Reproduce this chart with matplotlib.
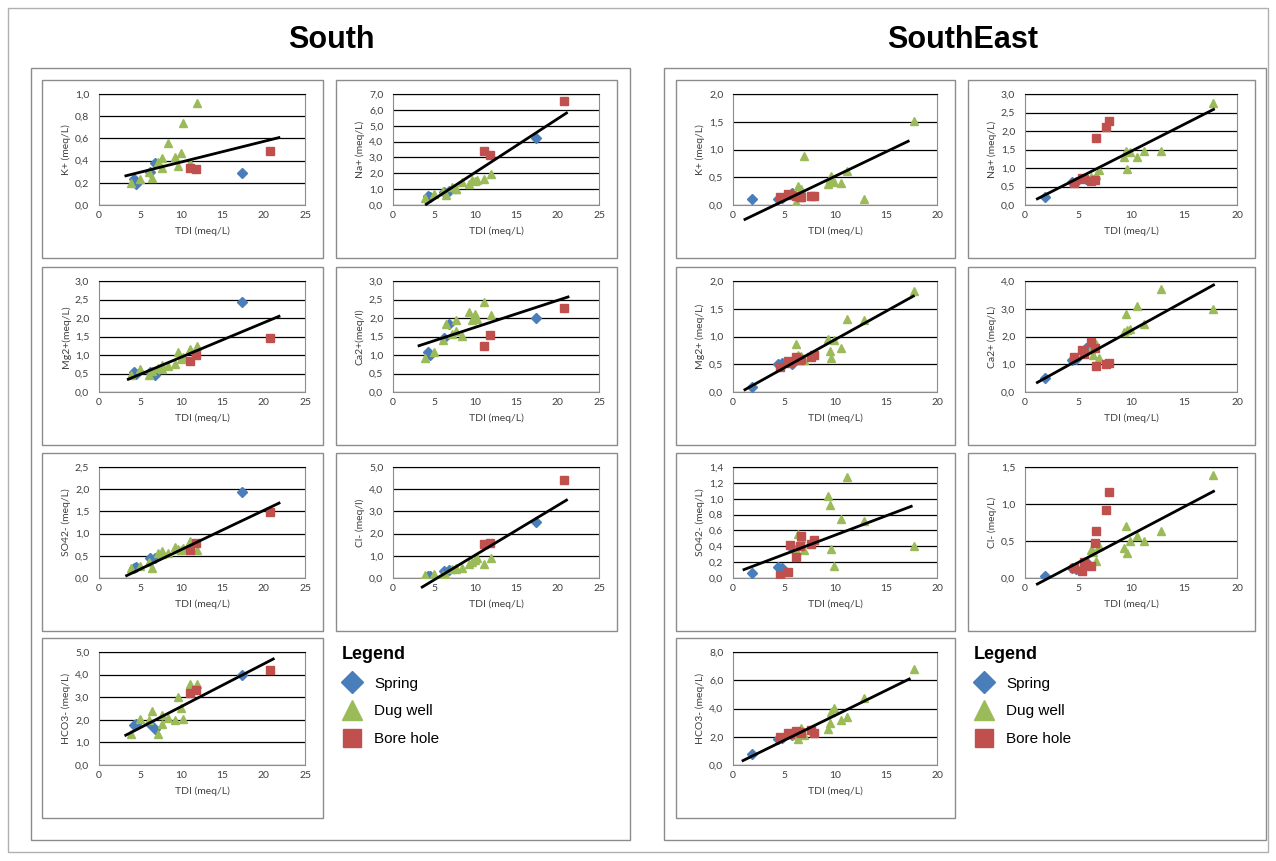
import matplotlib
matplotlib.use("Agg")
import matplotlib.pyplot as plt
from matplotlib.patches import Rectangle
from matplotlib.lines import Line2D
from matplotlib.ticker import FuncFormatter, MultipleLocator

W, H = 1276, 861

# ion order used by every list below
ion_keys = ["K", "Na", "Mg", "Ca", "SO4", "Cl", "HCO3"]

# ---------------- South ----------------
south_ylabels = ["K+ (meq/L)", "Na+ (meq/L)", "Mg2+(meq/L)", "Ca2+(meq/l)",
                 "SO42- (meq/L)", "Cl- (meq/l)", "HCO3- (meq/L)"]
south_ymax = [1.0, 7.0, 3.0, 3.0, 2.5, 5.0, 5.0]
south_ystep = [0.2, 1.0, 0.5, 0.5, 0.5, 1.0, 1.0]

south_spring_tdi = [4.3, 4.5, 6.2, 6.8, 17.4]
south_spring_y = [
    [0.23, 0.19, 0.30, 0.38, 0.29],
    [0.56, 0.50, 0.80, 0.90, 4.25],
    [0.54, 0.50, 0.55, 0.47, 2.42],
    [1.07, 1.01, 1.45, 1.84, 2.00],
    [0.22, 0.24, 0.45, 0.45, 1.94],
    [0.10, 0.08, 0.32, 0.35, 2.54],
    [1.75, 1.80, 1.80, 1.58, 4.00],
]

south_dug_tdi = [3.9, 5.0, 6.1, 6.4, 7.1, 7.6, 7.7, 8.4, 9.2, 9.6, 10.0, 10.2, 11.0, 11.9]
south_dug_y = [
    [0.20, 0.23, 0.30, 0.24, 0.39, 0.42, 0.33, 0.56, 0.43, 0.35, 0.47, 0.74, 0.38, 0.92],
    [0.46, 0.67, 0.88, 0.60, 1.13, 0.98, 1.02, 1.44, 1.30, 1.55, 1.50, 1.55, 1.65, 1.98],
    [0.47, 0.63, 0.45, 0.58, 0.65, 0.74, 0.62, 0.69, 0.76, 1.07, 0.90, 0.94, 1.16, 1.23],
    [0.92, 1.09, 1.41, 1.84, 1.58, 1.64, 1.94, 1.52, 2.17, 1.94, 2.10, 1.97, 2.44, 2.09],
    [0.23, 0.27, 0.35, 0.23, 0.56, 0.55, 0.60, 0.56, 0.69, 0.66, 0.64, 0.67, 0.83, 0.64],
    [0.13, 0.18, 0.15, 0.10, 0.39, 0.42, 0.44, 0.47, 0.64, 0.73, 0.80, 0.90, 0.64, 0.90],
    [1.37, 2.02, 2.00, 2.40, 1.38, 1.80, 2.20, 2.10, 1.99, 3.00, 2.54, 2.02, 3.59, 3.59],
]

south_bore_tdi = [11.1, 11.8, 20.8]
south_bore_y = [
    [0.33, 0.32, 0.49],
    [3.43, 3.18, 6.58],
    [0.83, 1.01, 1.46],
    [1.25, 1.55, 2.26],
    [0.64, 0.78, 1.48],
    [1.52, 1.59, 4.41],
    [3.18, 3.33, 4.20],
]

south_trend_x0 = [3.1, 3.9, 3.4, 3.0, 3.2, 3.4, 3.1]
south_trend_y0 = [0.26, 0.0, 0.33, 1.24, 0.04, -0.44, 1.29]
south_trend_x1 = [22.0, 21.2, 22.0, 21.4, 22.0, 21.2, 21.3]
south_trend_y1 = [0.61, 5.85, 2.06, 2.58, 1.70, 3.54, 4.72]

# ---------------- SouthEast ----------------
se_ylabels = ["K+ (meq/L)", "Na+ (meq/L)", "Mg2+ (meq/L)", "Ca2+ (meq/L)",
              "SO42- (meq/L)", "Cl- (meq/L)", "HCO3- (meq/L)"]
se_ymax = [2.0, 3.0, 2.0, 4.0, 1.4, 1.5, 8.0]
se_ystep = [0.5, 0.5, 0.5, 1.0, 0.2, 0.5, 2.0]

se_spring_tdi = [1.85, 4.4, 4.8, 5.8]
se_spring_y = [
    [0.11, 0.11, 0.12, 0.22],
    [0.21, 0.62, 0.63, 0.70],
    [0.09, 0.50, 0.52, 0.51],
    [0.52, 1.14, 1.20, 1.60],
    [0.06, 0.14, 0.13, 0.38],
    [0.03, 0.13, 0.12, 0.22],
    [0.80, 1.87, 1.90, 2.10],
]

se_dug_tdi = [6.2, 6.4, 6.7, 7.0, 9.3, 9.5, 9.6, 9.9, 10.6, 11.2, 12.8, 17.7]
se_dug_y = [
    [0.05, 0.35, 0.28, 0.89, 0.37, 0.46, 0.53, 0.42, 0.39, 0.61, 0.10, 1.52],
    [0.76, 0.70, 0.80, 0.94, 1.30, 1.47, 0.98, 1.42, 1.30, 1.47, 1.47, 2.75],
    [0.87, 0.67, 0.64, 0.57, 0.95, 0.74, 0.62, 0.93, 0.80, 1.32, 1.30, 1.82],
    [1.55, 1.35, 1.74, 1.24, 2.16, 2.80, 2.25, 2.28, 3.10, 2.44, 3.72, 3.00],
    [0.35, 0.56, 0.51, 0.35, 1.04, 0.92, 0.37, 0.15, 0.75, 1.28, 0.72, 0.40],
    [0.38, 0.35, 0.23, 0.43, 0.40, 0.70, 0.34, 0.50, 0.57, 0.50, 0.63, 1.39],
    [2.10, 1.83, 2.63, 2.10, 2.56, 2.97, 3.77, 4.07, 3.20, 3.38, 4.75, 6.81],
]

se_bore_tdi = [4.6, 5.4, 5.6, 6.2, 6.6, 6.7, 7.6, 7.95]
se_bore_y = [
    [0.14, 0.20, 0.18, 0.17, 0.14, 0.15, 0.16, 0.17],
    [0.60, 0.72, 0.70, 0.66, 0.68, 1.81, 2.10, 2.28],
    [0.45, 0.56, 0.52, 0.63, 0.57, 0.60, 0.63, 0.66],
    [1.26, 1.50, 1.38, 1.80, 1.60, 0.92, 1.00, 1.05],
    [0.04, 0.08, 0.41, 0.27, 0.40, 0.53, 0.43, 0.48],
    [0.13, 0.10, 0.22, 0.16, 0.47, 0.63, 0.92, 1.16],
    [2.01, 2.24, 2.20, 2.40, 2.35, 2.29, 2.51, 2.24],
]

se_trend_x0 = [1.05, 1.05, 1.05, 1.05, 0.95, 1.05, 0.86]
se_trend_y0 = [-0.27, 0.15, 0.03, 0.32, 0.10, -0.09, 0.27]
se_trend_x1 = [17.3, 17.9, 17.8, 17.9, 17.6, 17.9, 17.4]
se_trend_y1 = [1.16, 2.60, 1.74, 3.88, 0.91, 1.18, 6.13]

legend_labels = ["Spring", "Dug well", "Bore hole"]
c_spring, c_dug, c_bore = "#4A7EBB", "#9BBB59", "#C0504D"

tick_font = "Lato"
plt.rcParams["font.family"] = ["Liberation Sans", "DejaVu Sans"]

fig = plt.figure(figsize=(W / 100, H / 100), dpi=100)


def px_rect(x0, y0, x1, y1):
    return [x0 / W, 1 - y1 / H, (x1 - x0) / W, (y1 - y0) / H]


def draw_box(x0, y0, x1, y1, color="#8c8c8c", lw=1.0):
    fig.add_artist(Rectangle((x0 / W, 1 - y1 / H), (x1 - x0) / W, (y1 - y0) / H,
                             transform=fig.transFigure, fill=False, ec=color, lw=lw))


comma = FuncFormatter(lambda v, p: f"{v:.1f}".replace(".", ","))

# whole-page frame and region frames
draw_box(8, 8, 1268, 852, color="#b0b0b0")
draw_box(31, 68, 630, 840)
draw_box(664, 68, 1266, 840)

row_y = [(80, 258), (267, 445), (453, 631), (638, 818)]

regions = [
    ("South", 331, [(42, 323), (336, 617)], 25, south_ylabels, south_ymax, south_ystep,
     south_spring_tdi, south_spring_y, south_dug_tdi, south_dug_y, south_bore_tdi, south_bore_y,
     south_trend_x0, south_trend_y0, south_trend_x1, south_trend_y1),
    ("SouthEast", 963, [(676, 955), (968, 1255)], 20, se_ylabels, se_ymax, se_ystep,
     se_spring_tdi, se_spring_y, se_dug_tdi, se_dug_y, se_bore_tdi, se_bore_y,
     se_trend_x0, se_trend_y0, se_trend_x1, se_trend_y1),
]

for (name, title_x, cols, xmax, ylabels, ymax, ystep, sp_x, sp_y, dg_x, dg_y, bh_x, bh_y,
     tx0, ty0, tx1, ty1) in regions:
    fig.text(title_x / W, 1 - 40 / H, name, ha="center", va="center",
             fontsize=22, fontweight="bold")
    for i in range(len(ion_keys)):
        r, c = divmod(i, 2)
        bx0, bx1 = cols[c]
        by0, by1 = row_y[r]
        draw_box(bx0, by0, bx1, by1)
        ax = fig.add_axes(px_rect(bx0 + 57, by0 + 14, bx1 - 18, by1 - 53))
        ax.plot(sp_x, sp_y[i], ls="", marker="D", ms=4.8, color=c_spring, zorder=3)
        ax.plot(dg_x, dg_y[i], ls="", marker="^", ms=6.2, color=c_dug, zorder=3)
        ax.plot(bh_x, bh_y[i], ls="", marker="s", ms=5.4, color=c_bore, zorder=3)
        ax.plot([tx0[i], tx1[i]], [ty0[i], ty1[i]], color="black", lw=2, zorder=4,
                clip_on=False, solid_capstyle="butt")
        ax.set_xlim(0, xmax)
        ax.set_ylim(0, ymax[i])
        ax.xaxis.set_major_locator(MultipleLocator(5))
        ax.yaxis.set_major_locator(MultipleLocator(ystep[i]))
        ax.yaxis.set_major_formatter(comma)
        ax.grid(axis="y", color="black", lw=0.9)
        ax.set_axisbelow(True)
        for s in ["left", "right", "bottom"]:
            ax.spines[s].set_color("#8c8c8c")
            ax.spines[s].set_linewidth(0.8)
        ax.spines["top"].set_color("black")
        ax.tick_params(axis="y", length=0, pad=7, labelsize=7.5, colors="#404040")
        ax.tick_params(axis="x", length=0, pad=4, labelsize=7.5, colors="#404040")
        for lab in ax.get_xticklabels() + ax.get_yticklabels():
            lab.set_family(tick_font)
        ax.set_xlabel("TDI (meq/L)", fontsize=7.5, family=tick_font, color="#404040", labelpad=5)
        ax.set_ylabel(ylabels[i], fontsize=7.5, family=tick_font, color="#404040", labelpad=3)

    handles = [
        Line2D([], [], ls="", marker="D", ms=11, color=c_spring),
        Line2D([], [], ls="", marker="^", ms=15, color=c_dug),
        Line2D([], [], ls="", marker="s", ms=13, color=c_bore),
    ]
    lx = cols[1][0] + 6
    fig.legend(handles, legend_labels, loc="upper left", bbox_to_anchor=(lx / W, 1 - 646 / H),
               frameon=False, title="Legend", alignment="left", fontsize=11,
               title_fontproperties={"weight": "bold", "size": 13},
               handlelength=1.3, handletextpad=0.8, borderpad=0, borderaxespad=0,
               labelspacing=0.9)

fig.savefig("out.png", dpi=100, facecolor="white")
